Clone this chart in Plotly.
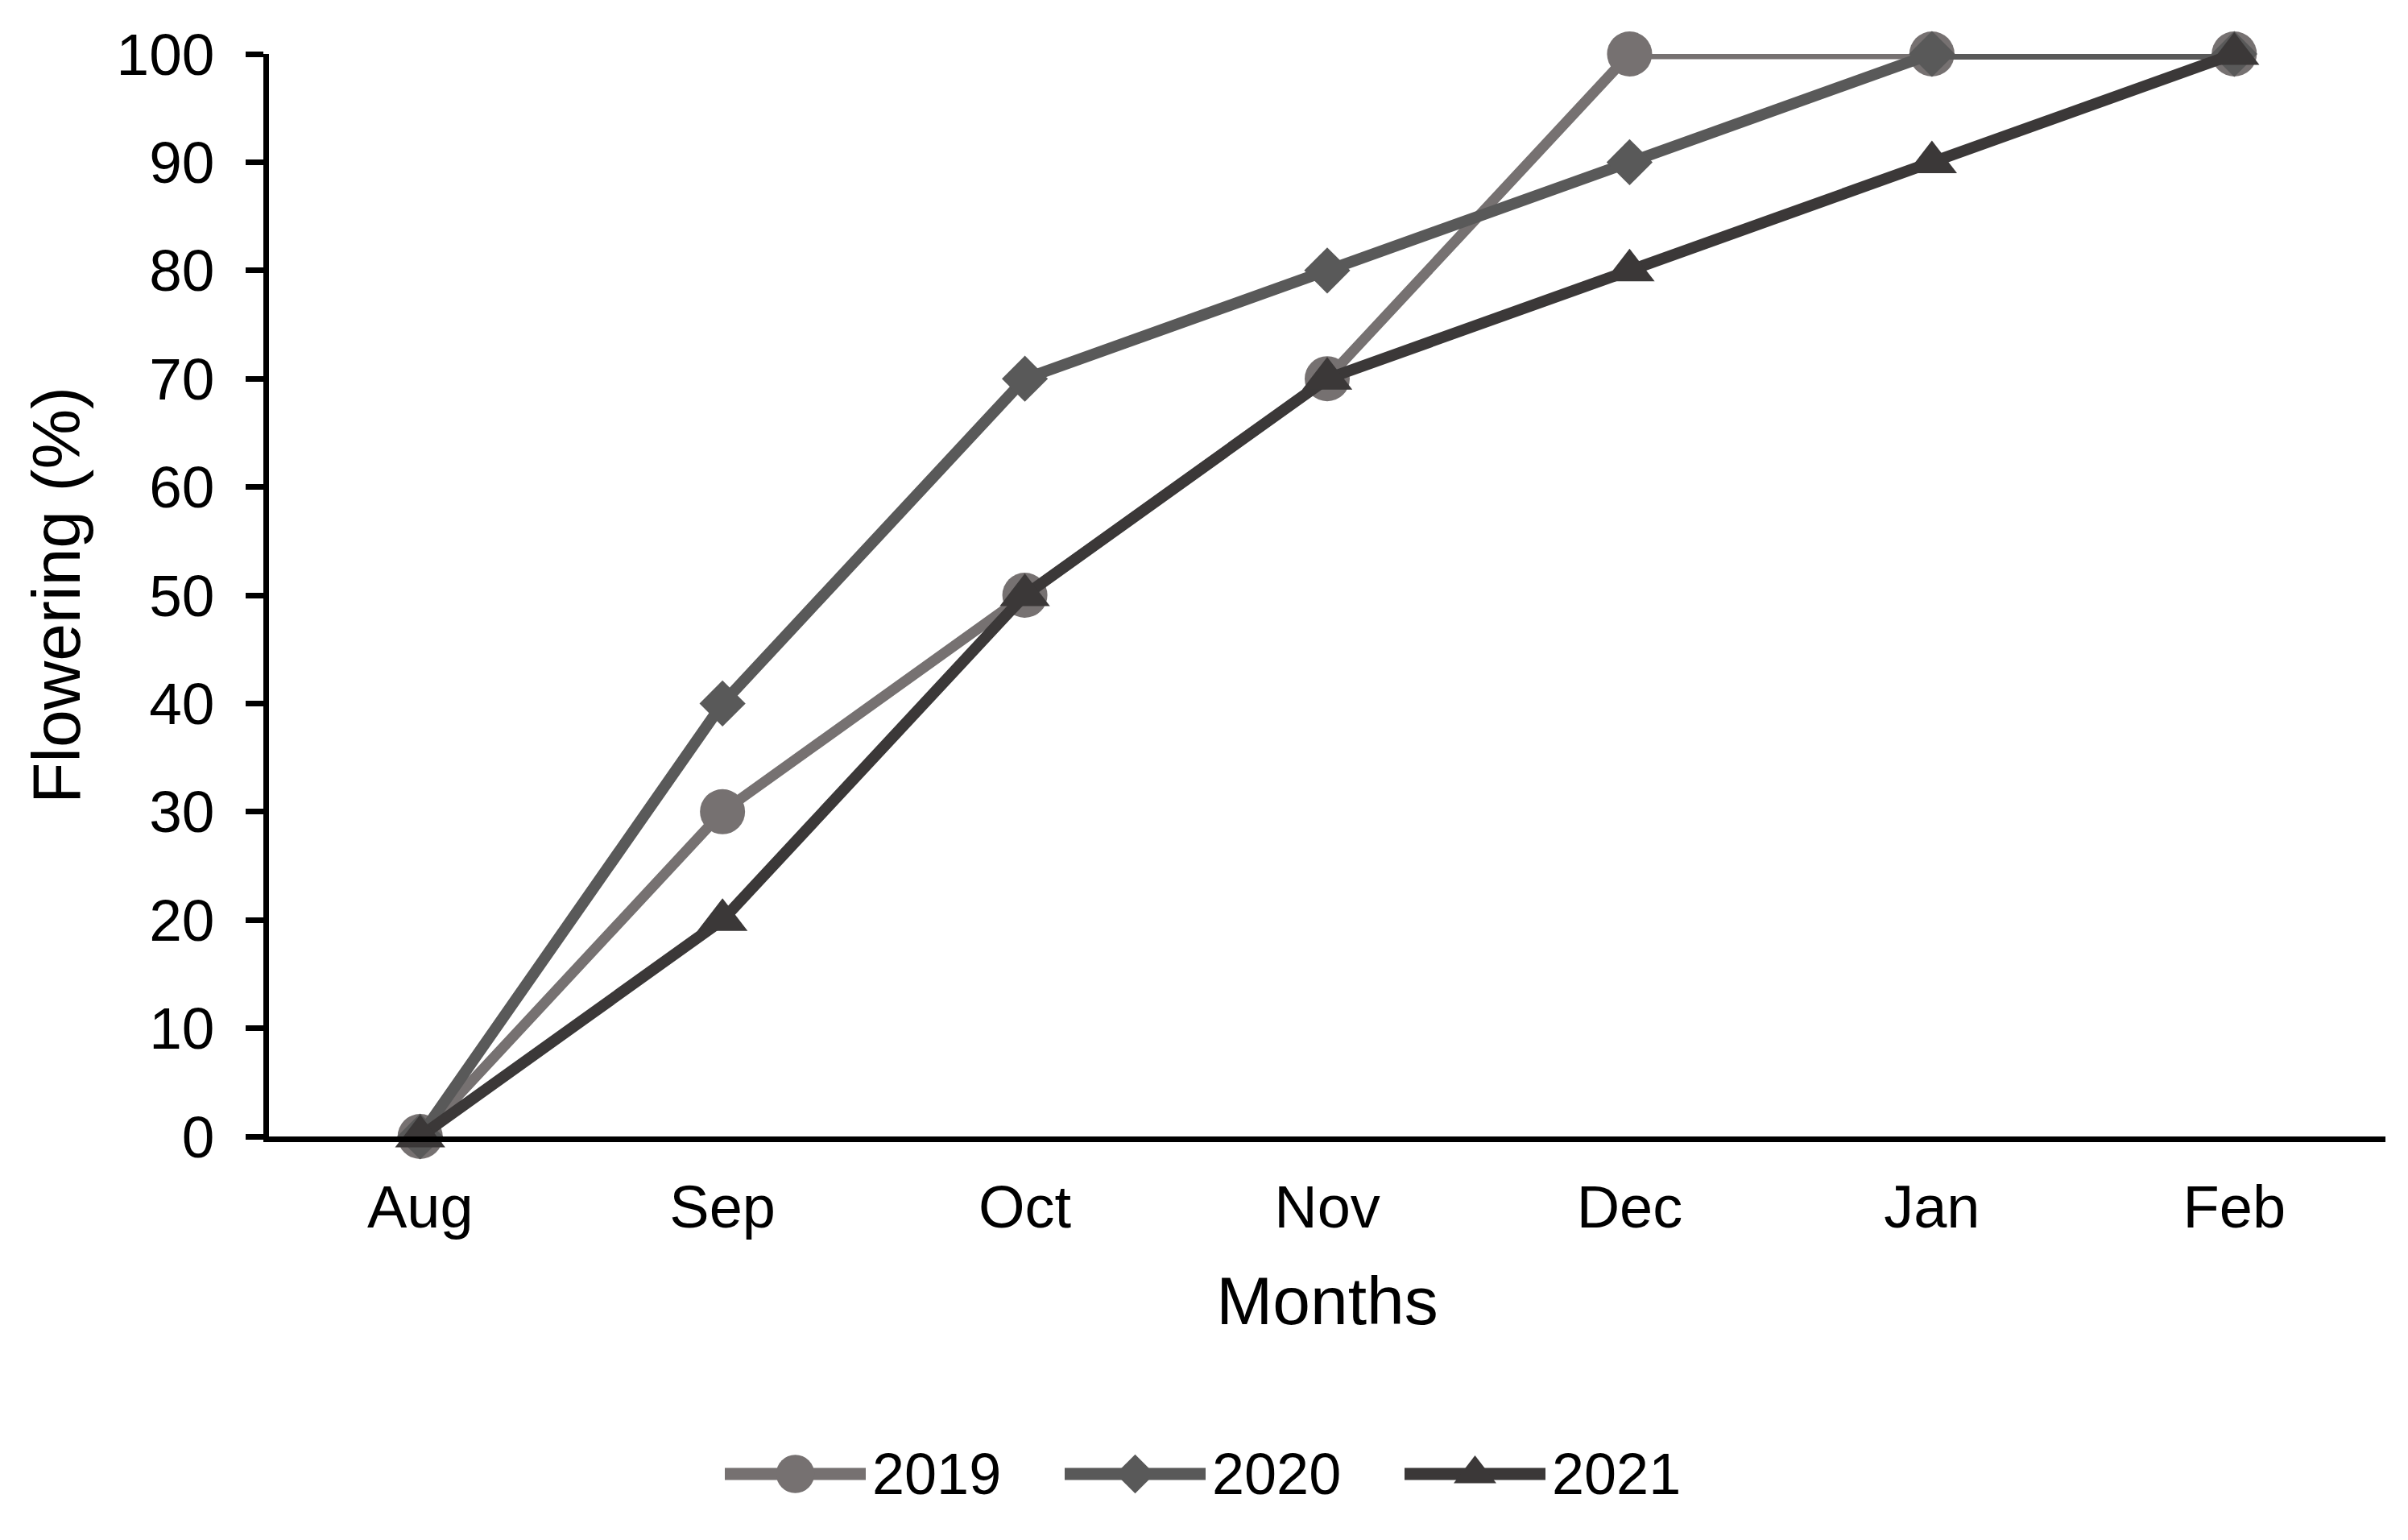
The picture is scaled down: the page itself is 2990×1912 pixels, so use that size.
import plotly.graph_objects as go

months = ["Aug", "Sep", "Oct", "Nov", "Dec", "Jan", "Feb"]
y2019 = [0, 30, 50, 70, 100, 100, 100]
y2020 = [0, 40, 70, 80, 90, 100, 100]
y2021 = [0, 20, 50, 70, 80, 90, 100]
series_names = ["2019", "2020", "2021"]
y_ticks = [0, 10, 20, 30, 40, 50, 60, 70, 80, 90, 100]

FONT = "Liberation Sans, Arial, sans-serif"
W, H = 2990, 1912
M_L, M_R, M_T, M_B = 334, 28, 67, 40
PLOT_BOTTOM_PX = 1411          # y pixel of the x axis
paper_h = H - M_T - M_B
main_y0 = (H - M_B - PLOT_BOTTOM_PX) / paper_h

styles = [
    dict(color="#767171", symbol="circle", size=56, width=13),
    dict(color="#595959", symbol="diamond", size=44, width=14),
    dict(color="#3B3838", symbol="triangle-up", size=54, width=14),
]

fig = go.Figure()
for name, ys, st in zip(series_names, [y2019, y2020, y2021], styles):
    # line (clipped to the plot area) + markers drawn unclipped on top
    fig.add_trace(go.Scatter(
        x=months, y=ys, name=name, mode="lines", showlegend=False,
        line=dict(color=st["color"], width=st["width"]),
        cliponaxis=True, hoverinfo="skip",
    ))
    fig.add_trace(go.Scatter(
        x=months, y=ys, name=name, mode="markers", showlegend=False,
        marker=dict(color=st["color"], symbol=st["symbol"], size=st["size"],
                    line=dict(width=0)),
        cliponaxis=False,
    ))

# ---- legend drawn in a small overlay axis below the chart (x units = pixels)
LEG_X0, LEG_PITCH, LEG_LEN, LEG_TEXT_GAP = 900, 422, 175, 6
LEG_Y_CENTER_PX = 1830
leg_y_c = (H - M_B - LEG_Y_CENTER_PX) / paper_h
annotations = []
for i, (name, st) in enumerate(zip(series_names, styles)):
    x0 = LEG_X0 + i * LEG_PITCH
    fig.add_trace(go.Scatter(
        x=[x0, x0 + LEG_LEN], y=[0, 0], mode="lines", xaxis="x2", yaxis="y2",
        line=dict(color=st["color"], width=15), showlegend=False, hoverinfo="skip",
    ))
    fig.add_trace(go.Scatter(
        x=[x0 + LEG_LEN / 2], y=[0], mode="markers", xaxis="x2", yaxis="y2",
        marker=dict(color=st["color"], symbol=st["symbol"], size=st["size"] * 0.85,
                    line=dict(width=0)),
        showlegend=False, hoverinfo="skip", cliponaxis=False,
    ))
    annotations.append(dict(
        text=name, x=x0 + LEG_LEN + LEG_TEXT_GAP, y=0, xref="x2", yref="y2",
        xanchor="left", yanchor="middle", showarrow=False,
        font=dict(family=FONT, size=72, color="black"),
    ))

fig.update_layout(
    width=W, height=H,
    paper_bgcolor="white", plot_bgcolor="white",
    margin=dict(l=M_L, r=M_R, t=M_T, b=M_B, autoexpand=False),
    font=dict(family=FONT, size=74, color="black"),
    showlegend=False,
    annotations=annotations,
    xaxis=dict(
        type="category", categoryorder="array", categoryarray=months,
        range=[-0.5, len(months) - 0.5], anchor="y",
        showline=True, linecolor="black", linewidth=7,
        ticks="", showgrid=False, zeroline=False,
        tickfont=dict(family=FONT, size=74, color="black"),
        ticklabelstandoff=17,
        title=dict(text="Months", font=dict(family=FONT, size=84, color="black"), standoff=49),
    ),
    yaxis=dict(
        domain=[main_y0, 1], anchor="x",
        range=[0, 100], tickvals=y_ticks,
        showline=True, linecolor="black", linewidth=7,
        ticks="outside", ticklen=22, tickwidth=7, tickcolor="black",
        showgrid=False, zeroline=False,
        tickfont=dict(family=FONT, size=73, color="black"),
        ticklabelstandoff=24,
        title=dict(text="Flowering (%)", font=dict(family=FONT, size=84, color="black"), standoff=20),
    ),
    xaxis2=dict(domain=[0, 1], range=[M_L, W - M_R], anchor="y2", visible=False,
                fixedrange=True),
    yaxis2=dict(domain=[0, 2 * leg_y_c], range=[-1, 1], anchor="x2", visible=False,
                fixedrange=True),
)

fig.write_html("out.html", config={"displayModeBar": False},
               post_script="document.body.style.margin='0';")
